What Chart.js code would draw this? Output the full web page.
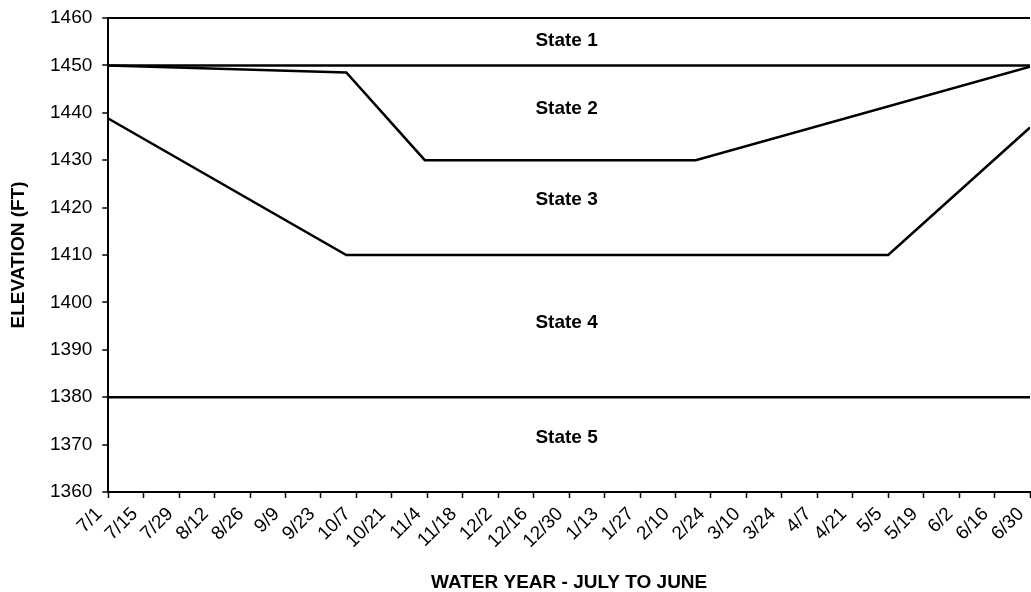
<!DOCTYPE html>
<html>
<head>
<meta charset="utf-8">
<script src="https://cdn.jsdelivr.net/npm/chart.js@4/dist/chart.umd.min.js"></script>
<style>
  html, body { margin: 0; padding: 0; background: #fff; overflow: hidden; }
  #wrap { width: 1031px; height: 592px; }
</style>
</head>
<body>
<div id="wrap"><canvas id="myChart"></canvas></div>
<script>
// x tick labels, one every 14 days from 7/1 (day 0) to 6/30 (day 364)
const tickLabels = ['7/1', '7/15', '7/29', '8/12', '8/26', '9/9', '9/23', '10/7', '10/21',
    '11/4', '11/18', '12/2', '12/16', '12/30', '1/13', '1/27', '2/10', '2/24', '3/10',
    '3/24', '4/7', '4/21', '5/5', '5/19', '6/2', '6/16', '6/30'];
const tickDays = tickLabels.map((l, i) => i * 14);

// boundary curves (day of water year, elevation in ft)
const state12Days = [0, 364];
const state12Elev = [1450, 1450];
const state23Days = [0, 94, 125, 232, 364];
const state23Elev = [1450, 1448.5, 1430, 1430, 1449.7];
const state34Days = [0, 94, 308, 364];
const state34Elev = [1438.8, 1410, 1410, 1436.9];
const state45Days = [0, 364];
const state45Elev = [1380, 1380];

// state labels
const stateNames = ['State 1', 'State 2', 'State 3', 'State 4', 'State 5'];
const stateDay = [181, 181, 181, 181, 181];
const stateElev = [1455.3, 1440.8, 1421.7, 1395.7, 1371.4];

const fontFam = "Arial, 'Liberation Sans', sans-serif";

function toPoints(days, elev) {
    return days.map((d, i) => ({ x: d, y: elev[i] }));
}

function lineSet(days, elev) {
    return {
        data: toPoints(days, elev),
        borderColor: '#000',
        borderWidth: 2.5,
        pointRadius: 0,
        tension: 0,
        fill: false
    };
}

const stateLabelPlugin = {
    id: 'stateLabels',
    afterDatasetsDraw(chart) {
        const ctx = chart.ctx;
        const xs = chart.scales.x, ys = chart.scales.y;
        ctx.save();
        ctx.fillStyle = '#000';
        ctx.font = 'bold 19px ' + fontFam;
        ctx.textAlign = 'center';
        ctx.textBaseline = 'middle';
        stateNames.forEach(function (name, i) {
            ctx.fillText(name, xs.getPixelForValue(stateDay[i]), ys.getPixelForValue(stateElev[i]));
        });
        ctx.restore();
    }
};

const config = {
    type: 'line',
    data: {
        datasets: [
            lineSet(state12Days, state12Elev),
            lineSet(state23Days, state23Elev),
            lineSet(state34Days, state34Elev),
            lineSet(state45Days, state45Elev)
        ]
    },
    options: {
        responsive: true,
        maintainAspectRatio: false,
        animation: false,
        layout: { padding: { top: 18, left: 7.6, right: 1, bottom: 0 } },
        plugins: {
            legend: { display: false },
            tooltip: { enabled: false }
        },
        scales: {
            x: {
                type: 'linear',
                min: 0,
                max: 364,
                afterBuildTicks: function (scale) {
                    scale.ticks = tickDays.map(v => ({ value: v }));
                },
                afterFit: function (scale) {
                    scale.paddingRight = 0;
                },
                ticks: {
                    color: '#000',
                    font: { family: fontFam, size: 19 },
                    minRotation: 45,
                    maxRotation: 45,
                    autoSkip: false,
                    padding: 5,
                    labelOffset: -9,
                    callback: function (value) {
                        const i = tickDays.indexOf(value);
                        return i >= 0 ? tickLabels[i] : '';
                    }
                },
                grid: {
                    drawOnChartArea: false,
                    tickColor: '#000',
                    tickLength: 6,
                    tickWidth: 1.5
                },
                border: { color: '#000', width: 2 },
                title: {
                    display: true,
                    text: 'WATER YEAR - JULY TO JUNE',
                    color: '#000',
                    font: { family: fontFam, size: 19, weight: 'bold' },
                    padding: { top: 13.5, bottom: -2 }
                }
            },
            y: {
                min: 1360,
                max: 1460,
                afterFit: function (scale) {
                    scale.paddingTop = 0;
                },
                ticks: {
                    stepSize: 10,
                    color: '#000',
                    font: { family: fontFam, size: 19 },
                    padding: 10,
                    callback: function (value) {
                        return String(value);
                    }
                },
                grid: {
                    color: function (c) {
                        return c.tick && c.tick.value === 1460 ? '#000' : 'rgba(0,0,0,0)';
                    },
                    lineWidth: 2,
                    tickColor: '#000',
                    tickLength: 6,
                    tickWidth: 1.5
                },
                border: { color: '#000', width: 2 },
                title: {
                    display: true,
                    text: 'ELEVATION (FT)',
                    color: '#000',
                    font: { family: fontFam, size: 19, weight: 'bold' },
                    padding: { top: 0, bottom: 9.6 }
                }
            }
        }
    },
    plugins: [stateLabelPlugin]
};

document.addEventListener('DOMContentLoaded', function () {
    new Chart(document.getElementById('myChart'), config);
});
</script>
</body>
</html>
